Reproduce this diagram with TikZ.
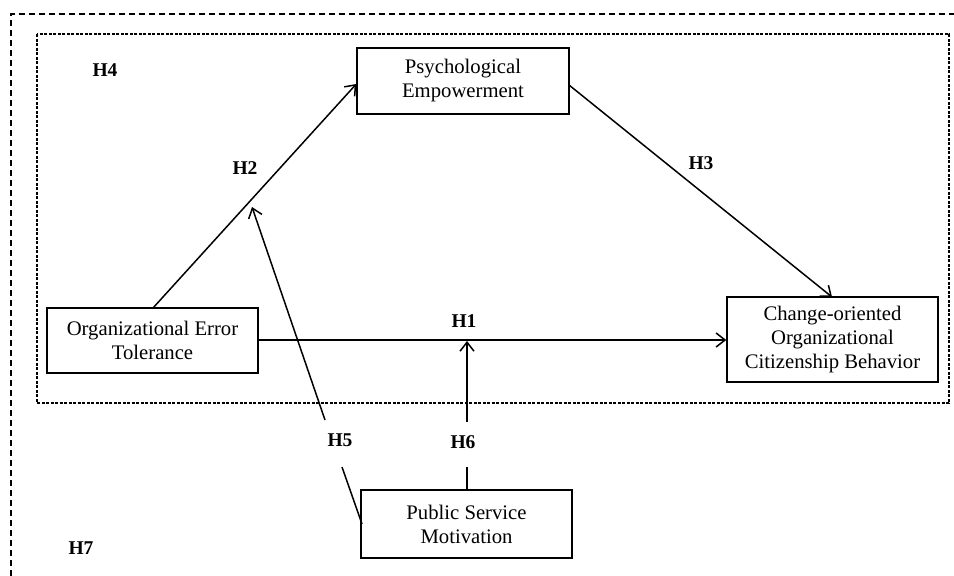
\documentclass[tikz,border=0pt]{standalone}
\usepackage{fontspec}
\setmainfont{Liberation Serif}
\usetikzlibrary{arrows.meta}
\begin{document}
\begin{tikzpicture}[x=1pt,y=-1pt,
  box/.style={draw, line width=1.4pt, align=center, font=\fontsize{20.7}{24}\selectfont, inner sep=0pt},
  hyp/.style={font=\fontsize{19.5}{21}\selectfont\bfseries},
  arr/.style={line width=1.5pt, -{Straight Barb[length=9pt,width=14pt,line width=1.5pt]}},
  seg/.style={line width=1.5pt},
  outerdash/.style={line width=1.2pt, dash pattern=on 6pt off 4pt},
  innerdash/.style={line width=1.1pt, dash pattern=on 3pt off 1.5pt}]
\useasboundingbox (0,0) rectangle (954,576);
% outer dashed frame (partially visible)
\draw[outerdash] (11,576) -- (11,14) -- (954,14);
% inner dashed frame
\draw[innerdash] (37,34) rectangle (949,403);
% boxes
\node[box, minimum width=212pt, minimum height=66pt] (pe) at (463,81) {Psychological\\Empowerment};
\node[box, minimum width=211pt, minimum height=65pt] (oet) at (152.5,340.5) {Organizational Error\\Tolerance};
\node[box, minimum width=211pt, minimum height=85pt] (cocb) at (832.5,339.5) {Change-oriented\\Organizational\\Citizenship Behavior};
\node[box, minimum width=211pt, minimum height=68pt] (psm) at (466.5,524) {Public Service\\Motivation};
% free ends
\coordinate (h2s) at (153,308);
\coordinate (h3s) at (569,85);
\coordinate (h3e) at (832,297);
\coordinate (h5a) at (362,524);
\coordinate (h5b) at (342,467);
\coordinate (h5c) at (325,420);
\coordinate (h5t) at (252,207);
\coordinate (h6a) at (467,490);
\coordinate (h6b) at (467,467);
\coordinate (h6c) at (467,422);
\coordinate (h6t) at (467,341);
% arrows
\draw[arr] (h2s) -- (pe.west |- 0,84) coordinate (h2e);
\draw[arr] (h3s) -- (h3e);
\draw[arr] (oet.east |- 0,340) -- (cocb.west |- 0,340);
\draw[seg] (h5a) -- (h5b);
\draw[arr] (h5c) -- (h5t);
\draw[seg] (h6a) -- (h6b);
\draw[arr] (h6c) -- (h6t);
% labels
\node[hyp] (l4) at (105,70) {H4};
\node[hyp] (l2) at (245,168) {H2};
\node[hyp] (l3) at (701,163) {H3};
\node[hyp] (l1) at (464,321) {H1};
\node[hyp] (l5) at (340,440) {H5};
\node[hyp] (l6) at (463,442) {H6};
\node[hyp] (l7) at (81,548) {H7};
\end{tikzpicture}
\end{document}
